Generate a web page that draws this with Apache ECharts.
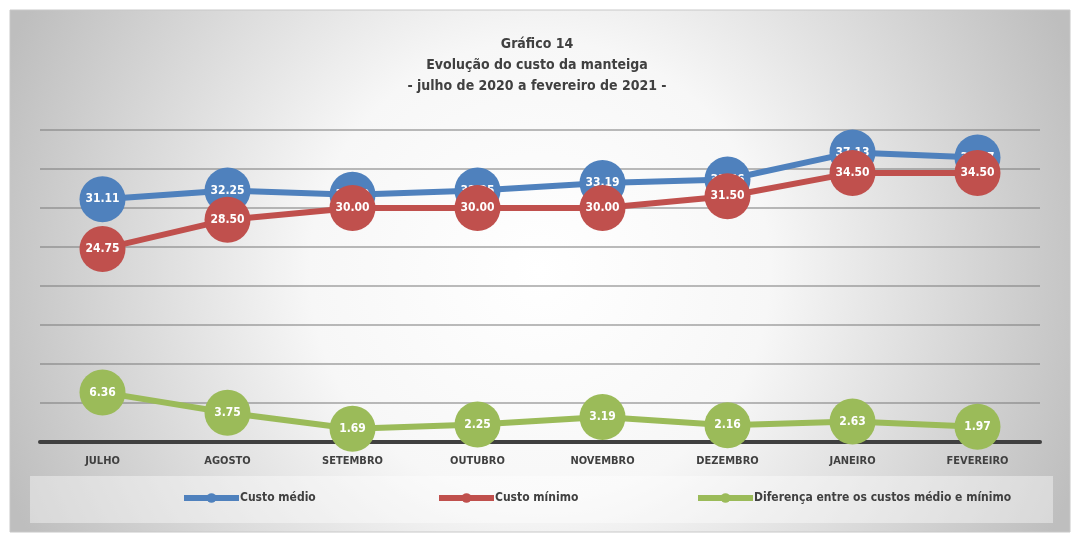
<!DOCTYPE html>
<html>
<head>
<meta charset="utf-8">
<script src="https://cdn.jsdelivr.net/npm/echarts@6/dist/echarts.min.js"></script>
<style>
  html, body { margin: 0; padding: 0; background: #fff; }
  #main { width: 1074px; height: 536px; }
</style>
</head>
<body>
<div id="main"></div>
<script>
var meses = ['JULHO', 'AGOSTO', 'SETEMBRO', 'OUTUBRO', 'NOVEMBRO', 'DEZEMBRO', 'JANEIRO', 'FEVEREIRO'];
var custoMedio = [31.11, 32.25, 31.69, 32.25, 33.19, 33.66, 37.13, 36.47];
var custoMinimo = [24.75, 28.50, 30.00, 30.00, 30.00, 31.50, 34.50, 34.50];
var diferenca = [6.36, 3.75, 1.69, 2.25, 3.19, 2.16, 2.63, 1.97];

// fonte estreita: DejaVu Sans em largura condensada
var fonte = '"DejaVu Sans Condensed", "DejaVu Sans", sans-serif';
var estilo = 'condensed';

var chart = echarts.init(document.getElementById('main'));

function serie(nome, cor, dados, z) {
    return {
        name: nome,
        type: 'line',
        data: dados,
        z: z,
        symbol: 'circle',
        symbolSize: 46,
        lineStyle: { color: cor, width: 6 },
        itemStyle: { color: cor },
        label: {
            show: true,
            position: 'inside',
            color: '#fff',
            fontFamily: fonte,
            fontStyle: estilo,
            fontWeight: 'bold',
            fontSize: 12,
            formatter: function (p) { return p.value.toFixed(2); }
        }
    };
}

function legenda(nome, x) {
    return {
        data: [nome],
        left: x,
        top: 492,
        padding: 0,
        itemWidth: 55,
        itemHeight: 12,
        itemGap: 0,
        lineStyle: { width: 6 },
        textStyle: { color: '#404040', fontFamily: fonte, fontStyle: estilo, fontWeight: 'bold', fontSize: 12, padding: [0, 0, 0, -4] }
    };
}

var option = {
    backgroundColor: '#fff',
    animation: false,
    graphic: [
        {
            type: 'rect',
            z: -10,
            shape: { x: 10, y: 10, width: 1060, height: 522 },
            style: {
                fill: new echarts.graphic.RadialGradient(0.5, 0.5, 1.1, [
                    { offset: 0, color: '#ffffff' },
                    { offset: 0.4, color: '#f7f7f7' },
                    { offset: 1, color: '#bebebe' }
                ]),
                stroke: '#c8c8c8',
                lineWidth: 1
            }
        },
        {
            type: 'rect',
            z: -9,
            shape: { x: 30, y: 476, width: 1023, height: 47 },
            style: { fill: 'rgba(255,255,255,0.4)' }
        }
    ],
    title: {
        text: 'Gráfico 14\nEvolução do custo da manteiga\n- julho de 2020 a fevereiro de 2021 -',
        left: 'center',
        top: 29,
        textStyle: {
            color: '#404040',
            fontFamily: fonte,
            fontStyle: estilo,
            fontWeight: 'bold',
            fontSize: 14,
            lineHeight: 21
        }
    },
    legend: [
        legenda('Custo médio', 181),
        legenda('Custo mínimo', 436),
        legenda('Diferença entre os custos médio e mínimo', 695)
    ],
    grid: { left: 40, right: 34, top: 130, bottom: 94 },
    xAxis: {
        type: 'category',
        data: meses,
        boundaryGap: true,
        axisTick: { show: false },
        axisLine: { show: true, lineStyle: { color: '#404040', width: 4 } },
        axisLabel: {
            color: '#404040',
            fontFamily: fonte,
            fontStyle: estilo,
            fontWeight: 'bold',
            fontSize: 11,
            margin: 14
        }
    },
    yAxis: {
        type: 'value',
        min: 0,
        max: 40,
        interval: 5,
        axisLabel: { show: false },
        axisLine: { show: false },
        axisTick: { show: false },
        splitLine: { lineStyle: { color: 'rgba(120,120,120,0.5)', width: 2 } }
    },
    series: [
        serie('Custo médio', '#4f81bd', custoMedio, 2),
        serie('Custo mínimo', '#c0504d', custoMinimo, 3),
        serie('Diferença entre os custos médio e mínimo', '#9bbb59', diferenca, 4)
    ]
};

chart.setOption(option);
</script>
</body>
</html>
